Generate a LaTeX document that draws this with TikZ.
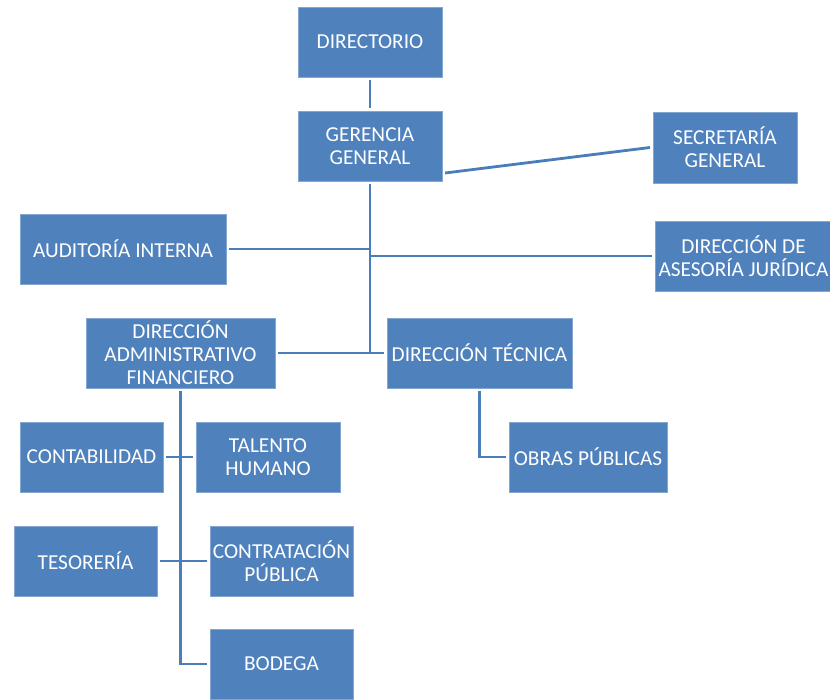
\documentclass[tikz,border=0pt]{standalone}
\usepackage{fontspec}
\setmainfont{Carlito}
\usepackage{tikz}
\usetikzlibrary{calc}
\definecolor{boxblue}{HTML}{4F81BD}
\definecolor{lineblue}{HTML}{4A7EBB}
\tikzset{
	unit/.style={fill=boxblue, draw=boxblue!70!white, line width=0.6pt, text=white, align=center, inner sep=2pt, outer sep=3pt, font=\fontsize{21.3}{23}\selectfont},
	link/.style={draw=lineblue, line width=2.8pt}
}

\begin{document}
\begin{tikzpicture}[x=1pt, y=-1pt]
			%%%%% START %%%%%
			
			\useasboundingbox (0, 0) rectangle (830, 699);
			
			\node[unit, minimum width=144, minimum height=70] (dir) at (370, 42) {DIRECTORIO};
			\node[unit, minimum width=144, minimum height=70] (ger) at (370, 146) {GERENCIA\\GENERAL};
			\node[unit, minimum width=144, minimum height=71] (sec) at (725, 147.5) {SECRETARÍA\\GENERAL};
			
			\node[unit, minimum width=206, minimum height=70] (aud) at (123, 249) {AUDITORÍA INTERNA};
			\node[unit, minimum width=177, minimum height=70] (asj) at (743.5, 256) {DIRECCIÓN DE\\ASESORÍA JURÍDICA};
			
			\node[unit, minimum width=189, minimum height=70] (daf) at (180.5, 353) {DIRECCIÓN\\ADMINISTRATIVO\\FINANCIERO};
			\node[unit, minimum width=185, minimum height=70] (dt) at (479.5, 353) {DIRECCIÓN TÉCNICA};
			
			\node[unit, minimum width=143, minimum height=70] (con) at (91.5, 457) {CONTABILIDAD};
			\node[unit, minimum width=144, minimum height=70] (tal) at (268, 457) {TALENTO\\HUMANO};
			\node[unit, minimum width=143, minimum height=70] (tes) at (85.5, 561) {TESORERÍA};
			\node[unit, minimum width=143, minimum height=70] (ctr) at (281.5, 561) {CONTRATACIÓN\\PÚBLICA};
			\node[unit, minimum width=143, minimum height=70] (bod) at (281.5, 664) {BODEGA};
			
			\node[unit, minimum width=158, minimum height=70] (obr) at (588, 457) {OBRAS PÚBLICAS};
			
			% top of the chart
			\draw[link] (dir.south) -- (ger.north);
			\draw[link] ($(ger.east)+(0, 27)$) -- (sec.west);
			
			\coordinate (trunk) at (ger.south |- daf.east);
			\draw[link] (ger.south) -- (trunk);
			\draw[link] (aud.east) -- (aud.east -| ger.south);
			\draw[link] (asj.west -| ger.south) -- (asj.west);
			\draw[link] (daf.east) -- (dt.west);
			
			% dependencias
			\draw[link] (daf.south) |- (bod.west);
			\draw[link] (con.east) -- (tal.west);
			\draw[link] (tes.east) -- (ctr.west);
			\draw[link] (dt.south) |- (obr.west);
			
			%%%%% END %%%%%
\end{tikzpicture}
\end{document}
